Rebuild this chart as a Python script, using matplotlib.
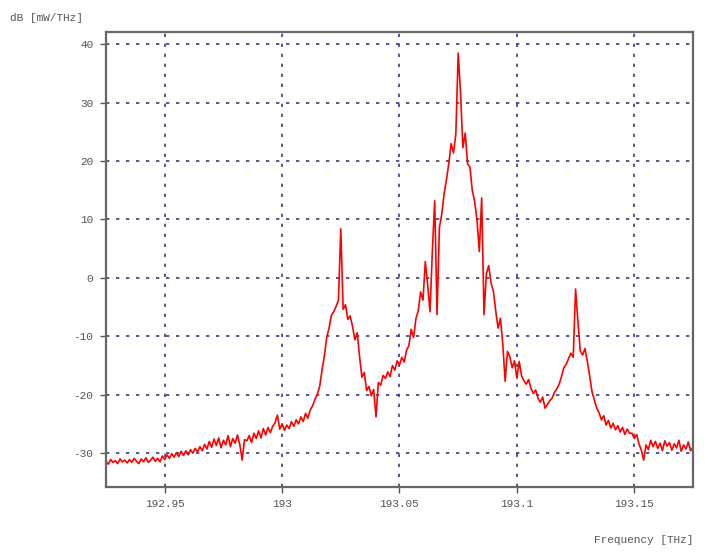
import numpy as np
import matplotlib.pyplot as plt

plt.rcParams['axes.unicode_minus'] = False

# spectrum, one value per 1 GHz from 192.925 to 193.175 THz
f_start = 192.925
f_stop = 193.175
power = [
    -31.4, -31.9, -31.1, -31.6, -31.3, -31.8, -31.0, -31.5, -31.2, -31.7,
    -31.1, -31.6, -30.9, -31.4, -31.8, -31.0, -31.5, -30.8, -31.6, -31.2,
    -30.7, -31.4, -30.9, -31.5, -30.5, -31.1, -30.3, -30.9, -30.1, -30.7,
    -29.9, -30.6, -29.7, -30.4, -29.6, -30.3, -29.4, -30.0, -29.2, -29.8,
    -28.9, -29.6, -28.5, -29.3, -28.0, -29.0, -27.6, -28.7, -27.4, -29.1,
    -27.8, -28.6, -27.0, -28.9, -27.5, -28.3, -26.9, -28.6, -31.2, -27.7,
    -27.9, -27.0, -28.2, -26.6, -27.5, -26.2, -27.4, -25.8, -26.9, -25.6,
    -26.5, -25.4, -24.8, -23.5, -25.9, -25.0, -26.1, -25.2, -25.8, -24.6,
    -25.4, -24.3, -25.0, -23.8, -24.6, -23.2, -24.0, -22.6, -21.9, -20.8,
    -19.9, -18.6, -15.8, -13.4, -10.2, -8.6, -6.4, -5.8, -4.9, -3.8,
    8.4, -5.4, -4.6, -7.1, -6.5, -8.3, -10.6, -9.4, -13.5, -17.0,
    -16.2, -19.3, -18.6, -20.2, -19.1, -23.8, -17.9, -18.4, -16.7, -17.2,
    -16.1, -16.9, -15.0, -15.8, -14.2, -14.9, -13.6, -14.4, -12.4, -11.6,
    -8.8, -10.2, -7.0, -5.6, -2.4, -3.8, 2.8, -1.2, -5.8, 4.6,
    13.2, -6.3, 8.6, 10.9, 14.4, 16.8, 19.6, 23.0, 21.4, 24.6,
    38.5, 31.7, 22.3, 24.8, 19.5, 19.0, 15.0, 13.1, 10.0, 4.5,
    13.7, -6.3, 0.7, 2.1, -0.9, -2.3, -5.7, -8.6, -6.9, -11.4,
    -17.7, -12.6, -13.5, -15.4, -14.2, -17.2, -14.3, -16.8, -17.6, -18.2,
    -17.4, -18.9, -19.8, -19.2, -20.6, -21.3, -20.4, -22.3, -21.7, -21.0,
    -20.6, -19.6, -19.0, -18.2, -16.9, -15.4, -14.8, -13.8, -12.9, -13.6,
    -1.9, -7.5, -12.5, -13.2, -12.1, -14.3, -16.8, -19.5, -20.9, -22.3,
    -23.1, -24.3, -23.6, -25.2, -24.4, -25.7, -24.9, -26.0, -25.3, -26.4,
    -25.6, -26.8, -25.9, -26.6, -26.6, -27.5, -26.8, -28.4, -29.5, -31.2,
    -28.6, -29.4, -27.8, -28.9, -28.0, -29.2, -28.3, -29.6, -27.9, -28.8,
    -28.2, -29.5, -28.4, -29.1, -27.8, -29.7, -28.6, -29.3, -28.1, -29.6,
    -29.0,
]
freq = np.linspace(f_start, f_stop, len(power))

x_ticks = [192.95, 193.0, 193.05, 193.1, 193.15]
x_labels = ["192.95", "193", "193.05", "193.1", "193.15"]
y_ticks = [-30, -20, -10, 0, 10, 20, 30, 40]

fig = plt.figure(figsize=(7.09, 5.52), dpi=100)
ax = fig.add_axes([0.1495, 0.1178, 0.8279, 0.8242])

ax.plot(freq, power, color="#ff0000", lw=1.2)

ax.set_xlim(f_start, f_stop)
ax.set_ylim(-35.8, 42.1)
ax.set_xticks(x_ticks)
ax.set_xticklabels(x_labels)
ax.set_yticks(y_ticks)

mono = "Liberation Mono"
for lab in ax.get_xticklabels() + ax.get_yticklabels():
    lab.set_fontfamily(mono)
    lab.set_fontsize(8)
    lab.set_color("#555555")
ax.tick_params(length=4, width=1, color="#555555", pad=5)

ax.grid(True, color="#3a3a80", linestyle=(0, (2, 4)), lw=1.2)
for s in ax.spines.values():
    s.set_color("#666666")
    s.set_linewidth(1.6)

fig.text(10 / 709, 1 - 18 / 552, "dB [mW/THz]", family=mono, fontsize=8,
         color="#555555", va="center", ha="left")
fig.text(693 / 709, 1 - 540 / 552, "Frequency [THz]", family=mono, fontsize=8,
         color="#555555", va="center", ha="right")

fig.savefig("out.png", dpi=100)
